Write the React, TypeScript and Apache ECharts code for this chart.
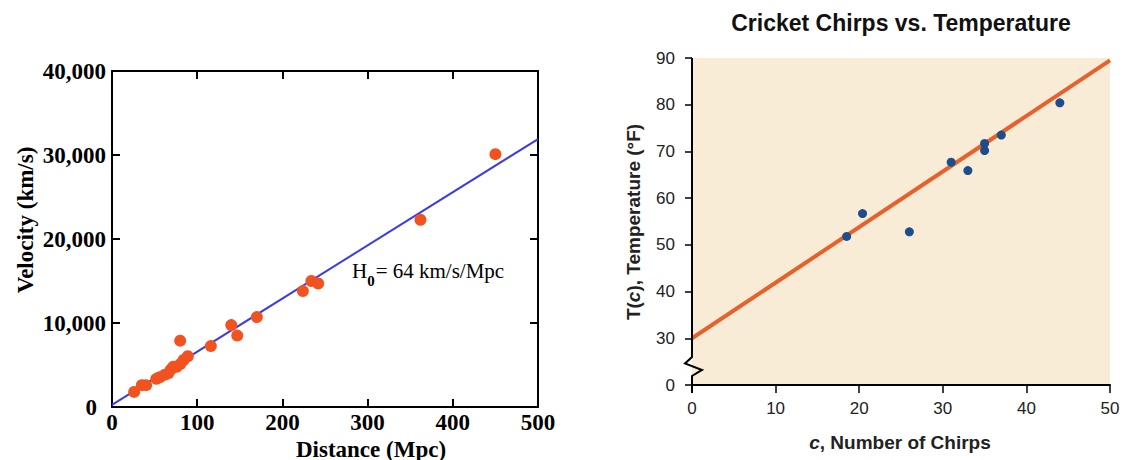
import React, { useEffect, useRef } from "react";
import * as echarts from "echarts";

// ---- Left chart: Hubble diagram ----
const hubbleDistance = [26, 35, 40, 52, 56, 62, 66, 69, 72, 76, 80, 80, 84, 89, 116, 140, 147, 170, 224, 234, 242, 362, 450];
const hubbleVelocity = [1800, 2600, 2600, 3350, 3550, 3850, 4000, 4450, 4800, 4800, 5100, 7900, 5600, 6050, 7250, 9750, 8500, 10700, 13800, 15000, 14700, 22300, 30100];
const hubbleFitX = [0, 500];
const hubbleFitY = [250, 31900];
const hubbleAnnotation = ["H", "0", "= 64 km/s/Mpc"];

// ---- Right chart: Cricket chirps ----
const chirps = [44, 37, 35, 35, 33, 31, 26, 20.4, 18.5];
const temperatures = [80.4, 73.5, 71.7, 70.2, 65.9, 67.7, 52.8, 56.7, 51.8];
const chirpFitX = [0, 50];
const chirpFitY = [30, 89.5];
// y axis is broken: the lowest tick position (20) is labelled "0"
const tempTickLabels: Record<number, string> = { 20: "0", 30: "30", 40: "40", 50: "50", 60: "60", 70: "70", 80: "80", 90: "90" };

const SERIF = '"Liberation Serif", "Times New Roman", serif';
const SANS = '"Liberation Sans", Arial, sans-serif';

export default function App() {
  const ref = useRef<HTMLDivElement>(null);

  useEffect(() => {
    if (!ref.current) return;
    const chart = echarts.init(ref.current, null, { renderer: "svg" });

    const leftLabel = { fontFamily: SERIF, fontWeight: "bold" as const, fontSize: 23, color: "#000" };
    const rightLabel = { fontFamily: SANS, fontSize: 17, color: "#222" };
    const blackLine = { color: "#000", width: 2 };

    chart.setOption({
      animation: false,
      backgroundColor: "#fff",
      grid: [
        { left: 112, right: 588, top: 71, bottom: 53, containLabel: false },
        { left: 692, right: 16, top: 58, bottom: 75, containLabel: false, show: true, backgroundColor: "#f8ecd6", borderWidth: 0 },
      ],
      xAxis: [
        {
          type: "value", gridIndex: 0, position: "bottom", min: 0, max: 500, interval: 100,
          axisLine: { show: true, onZero: false, lineStyle: blackLine },
          axisTick: { show: true, inside: true, length: 8, lineStyle: blackLine },
          axisLabel: { ...leftLabel, margin: 4 },
          splitLine: { show: false },
        },
        {
          type: "value", gridIndex: 0, position: "top", min: 0, max: 500, interval: 100,
          axisLine: { show: true, onZero: false, lineStyle: blackLine },
          axisTick: { show: true, inside: true, length: 8, lineStyle: blackLine },
          axisLabel: { show: false },
          splitLine: { show: false },
        },
        {
          type: "value", gridIndex: 1, position: "bottom", min: 0, max: 50, interval: 10,
          axisLine: { show: true, onZero: false, lineStyle: blackLine },
          axisTick: { show: true, inside: false, length: 8, lineStyle: { color: "#000", width: 1.5 } },
          axisLabel: { ...rightLabel, margin: 15 },
          splitLine: { show: false },
        },
      ],
      yAxis: [
        {
          type: "value", gridIndex: 0, position: "left", min: 0, max: 40000, interval: 10000,
          axisLine: { show: true, onZero: false, lineStyle: blackLine },
          axisTick: { show: true, inside: true, length: 8, lineStyle: blackLine },
          axisLabel: {
            ...leftLabel, margin: 6,
            formatter: (v: number) => (v === 0 ? "{z|0}" : v.toLocaleString("en-US")),
            rich: { z: { ...leftLabel, padding: [0, 9, 0, 0] } },
          },
          splitLine: { show: false },
        },
        {
          type: "value", gridIndex: 0, position: "right", min: 0, max: 40000, interval: 10000,
          axisLine: { show: true, onZero: false, lineStyle: blackLine },
          axisTick: { show: true, inside: true, length: 8, lineStyle: blackLine },
          axisLabel: { show: false },
          splitLine: { show: false },
        },
        {
          type: "value", gridIndex: 1, position: "left", min: 20, max: 90, interval: 10,
          axisLine: { show: false, onZero: false },
          axisTick: { show: true, inside: false, length: 7, lineStyle: { color: "#000", width: 1.5 } },
          axisLabel: { ...rightLabel, margin: 17, formatter: (v: number) => tempTickLabels[v] ?? String(v) },
          splitLine: { show: false },
        },
      ],
      series: [
        {
          type: "line", xAxisIndex: 0, yAxisIndex: 0, z: 2, showSymbol: false, symbol: "none",
          data: hubbleFitX.map((x, i) => [x, hubbleFitY[i]]),
          lineStyle: { color: "#3c3ce6", width: 2 },
        },
        {
          type: "scatter", xAxisIndex: 0, yAxisIndex: 0, z: 3, symbolSize: 12,
          data: hubbleDistance.map((x, i) => [x, hubbleVelocity[i]]),
          itemStyle: { color: "#f2521f", opacity: 1 },
        },
        {
          type: "line", xAxisIndex: 2, yAxisIndex: 2, z: 2, showSymbol: false, symbol: "none",
          data: chirpFitX.map((x, i) => [x, chirpFitY[i]]),
          lineStyle: { color: "#e8602c", width: 4 },
        },
        {
          type: "scatter", xAxisIndex: 2, yAxisIndex: 2, z: 3, symbolSize: 9,
          data: chirps.map((x, i) => [x, temperatures[i]]),
          itemStyle: { color: "#1d4e8b", opacity: 1 },
        },
      ],
    });

    // broken y-axis line with zigzag for the right chart
    const pTop = chart.convertToPixel({ xAxisIndex: 2, yAxisIndex: 2 }, [0, 90]) as number[];
    const p30 = chart.convertToPixel({ xAxisIndex: 2, yAxisIndex: 2 }, [0, 30]) as number[];
    const p0 = chart.convertToPixel({ xAxisIndex: 2, yAxisIndex: 2 }, [0, 20]) as number[];
    const ax = pTop[0];
    const gap = p0[1] - p30[1];
    const zigStart = p30[1] + gap * 0.4;
    const axisPoints = [
      [ax, pTop[1]],
      [ax, zigStart],
      [ax - 7, zigStart + 6.5],
      [ax + 10, zigStart + 13],
      [ax, zigStart + 19],
      [ax, p0[1] + 8],
    ];

    const annoFont = 21;
    const hWidth = 0.722 * annoFont;
    const subSize = 15;
    const subWidth = 0.5 * subSize + 1;

    chart.setOption({
      graphic: [
        {
          type: "polyline", z: 100,
          shape: { points: axisPoints },
          style: { stroke: "#000", lineWidth: 2, fill: null },
        },
        {
          type: "text", x: 25, y: 220, rotation: Math.PI / 2,
          style: { text: "Velocity (km/s)", fontFamily: SERIF, fontWeight: "bold", fontSize: 23, fill: "#000", align: "center", verticalAlign: "middle" },
        },
        {
          type: "text", x: 371, y: 449,
          style: { text: "Distance (Mpc)", fontFamily: SERIF, fontWeight: "bold", fontSize: 23, fill: "#000", align: "center", verticalAlign: "middle" },
        },
        {
          type: "group", x: 352, y: 271,
          children: [
            {
              type: "text", x: 0, y: 0,
              style: { text: hubbleAnnotation[0], fontFamily: SERIF, fontSize: annoFont, fill: "#000", align: "left", verticalAlign: "middle" },
            },
            {
              type: "text", x: hWidth, y: 10,
              style: { text: hubbleAnnotation[1], fontFamily: SERIF, fontWeight: "bold", fontSize: subSize, fill: "#000", align: "left", verticalAlign: "middle" },
            },
            {
              type: "text", x: hWidth + subWidth, y: 0,
              style: { text: hubbleAnnotation[2], fontFamily: SERIF, fontSize: annoFont, fill: "#000", align: "left", verticalAlign: "middle" },
            },
          ],
        },
        {
          type: "text", x: 901, y: 23,
          style: { text: "Cricket Chirps vs. Temperature", fontFamily: SANS, fontWeight: "bold", fontSize: 23, fill: "#111", align: "center", verticalAlign: "middle" },
        },
        {
          type: "text", x: 633, y: 222, rotation: Math.PI / 2,
          style: {
            text: "{b|T(}{i|c}{b|), Temperature (°F)}",
            align: "center", verticalAlign: "middle",
            rich: {
              b: { fontFamily: SANS, fontWeight: "bold", fontSize: 19, fill: "#222" },
              i: { fontFamily: SANS, fontWeight: "bold", fontStyle: "italic", fontSize: 19, fill: "#222" },
            },
          },
        },
        {
          type: "text", x: 900, y: 442,
          style: {
            text: "{i|c}{b|, Number of Chirps}",
            align: "center", verticalAlign: "middle",
            rich: {
              b: { fontFamily: SANS, fontWeight: "bold", fontSize: 19, fill: "#222" },
              i: { fontFamily: SANS, fontWeight: "bold", fontStyle: "italic", fontSize: 19, fill: "#222" },
            },
          },
        },
      ],
    });

    return () => chart.dispose();
  }, []);

  return (
    <div style={{ position: "fixed", left: 0, top: 0, width: 1126, height: 460, background: "#fff" }}>
      <div ref={ref} style={{ width: 1126, height: 460 }} />
    </div>
  );
}
